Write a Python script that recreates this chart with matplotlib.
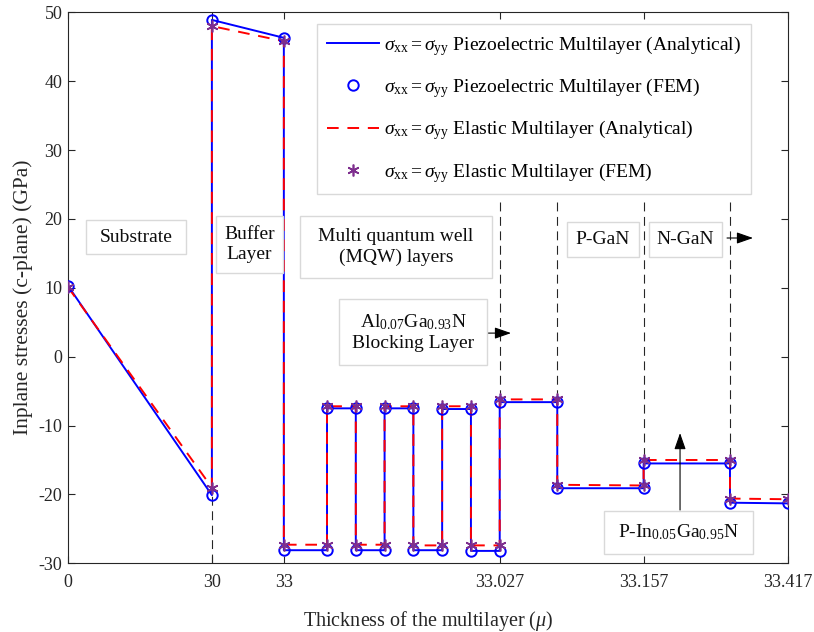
import matplotlib
matplotlib.use('Agg')
import matplotlib.pyplot as plt
from matplotlib.patches import Rectangle

plt.rcParams['font.family'] = ['Liberation Serif', 'DejaVu Serif']
plt.rcParams['mathtext.fontset'] = 'custom'
plt.rcParams['mathtext.rm'] = 'Liberation Serif'
plt.rcParams['mathtext.it'] = 'Liberation Serif:italic'
plt.rcParams['axes.unicode_minus'] = False

# layer boundaries on the (non-linear) plotted axis, each boundary appears twice (left/right value)
x_nodes = [0, 5, 5, 7.5, 7.5, 9, 9, 10, 10, 11, 11, 12, 12, 13, 13, 14, 14, 15, 15,
           17, 17, 20, 20, 23, 23, 25]

# sigma_xx = sigma_yy, GPa
piezo = [10.3, -20.1, 48.9, 46.3, -28.1, -28.1, -7.5, -7.5, -28.1, -28.1, -7.5, -7.5,
         -28.1, -28.1, -7.6, -7.6, -28.2, -28.2, -6.6, -6.6, -19.1, -19.1, -15.5, -15.5,
         -21.2, -21.3]
elastic = [10.1, -19.0, 48.0, 45.8, -27.3, -27.3, -7.2, -7.2, -27.3, -27.3, -7.2, -7.2,
           -27.4, -27.4, -7.2, -7.2, -27.4, -27.4, -6.2, -6.2, -18.6, -18.7, -15.0, -15.0,
           -20.6, -20.7]

tick_pos = [0, 5, 7.5, 15, 20, 25]
tick_labels = ['0', '30', '33', '33.027', '33.157', '33.417']

# dashed guide lines at some interfaces
guide_x = [15, 17, 20, 23]
guide_top = 22.5

# annotation boxes: text, x0, x1, y0, y1 (axes fraction)
boxes = [
    ('Substrate', 0.0250, 0.1640, 0.5613, 0.6231),
    ('Buffer\nLayer', 0.2057, 0.2988, 0.5269, 0.6304),
    ('Multi quantum well\n(MQW) layers', 0.3224, 0.5893, 0.5178, 0.6304),
    (r'Al$_{0.07}$Ga$_{0.93}$N' + '\nBlocking Layer', 0.3766, 0.5823, 0.3599, 0.4797),
    ('P-GaN', 0.6935, 0.7936, 0.5559, 0.6195),
    ('N-GaN', 0.8075, 0.9090, 0.5559, 0.6195),
    (r'P-In$_{0.05}$Ga$_{0.95}$N', 0.7450, 0.9521, 0.0169, 0.0949),
]

fig = plt.figure(figsize=(8.14, 6.32), dpi=100)
ax = fig.add_axes([0.0835, 0.1087, 0.884, 0.8718])

gls = (0, (8, 5))
ax.plot([5, 5], [-30, min(piezo[1], elastic[1])], color='0.15', ls=gls, lw=0.8, zorder=1)
for gx in guide_x:
    vals = [p for xn, p in zip(x_nodes, piezo) if xn == gx] + [e for xn, e in zip(x_nodes, elastic) if xn == gx]
    ax.plot([gx, gx], [guide_top, max(vals)], color='0.15', ls=gls, lw=0.8, zorder=1)

lab = r'$\sigma_{\rm xx} = \sigma_{\rm yy}$ '
ax.plot(x_nodes, piezo, color='b', lw=1.4, label=lab + 'Piezoelectric Multilayer (Analytical)', zorder=2)
ax.plot(x_nodes, piezo, ls='none', marker='o', ms=7.5, mfc='none', mec='b', mew=1.4,
        label=lab + 'Piezoelectric Multilayer (FEM)', zorder=4)
ax.plot(x_nodes, elastic, color='r', lw=1.4, ls=(0, (6, 4.5)), label=lab + 'Elastic Multilayer (Analytical)', zorder=3)
ax.plot(x_nodes, elastic, ls='none', marker=(6, 2, 0), ms=8.5, mec='#7e2f8e', mew=1.2,
        label=lab + 'Elastic Multilayer (FEM)', zorder=5)

ax.set_xlim(0, 25)
ax.set_ylim(-30, 50)
ax.set_xticks(tick_pos)
ax.set_xticklabels(tick_labels)
ax.set_yticks(range(-30, 51, 10))
ax.tick_params(direction='in', top=True, right=True, length=5, labelsize=13, colors='0.15')
ax.tick_params(axis='x', pad=8)
ax.tick_params(axis='y', pad=4)
for s in ax.spines.values():
    s.set_color('0.15')
    s.set_linewidth(0.8)

ax.set_xlabel(r'Thickness of the multilayer ($\mu$)', fontsize=14.5, color='0.15', labelpad=13)
ax.set_ylabel('Inplane stresses (c-plane) (GPa)', fontsize=15.5, color='0.15')
ax.yaxis.set_label_coords(-0.049, 0.483)

leg = ax.legend(loc='upper right', bbox_to_anchor=(0.949, 0.979), fontsize=14, labelspacing=0.95,
                handlelength=2.7, handletextpad=0.25, borderpad=0.5, fancybox=False, framealpha=1,
                borderaxespad=0)
leg.get_frame().set_edgecolor('0.85')
leg.get_frame().set_linewidth(1)

for txt, x0, x1, y0, y1 in boxes:
    ax.add_patch(Rectangle((x0, y0), x1 - x0, y1 - y0, transform=ax.transAxes, fc='white',
                           ec='0.85', lw=1, zorder=6))
    ax.text((x0 + x1) / 2, (y0 + y1) / 2, txt, transform=ax.transAxes, fontsize=14, ha='center',
            va='center', color='0.05', linespacing=1.25, zorder=7)

arr = dict(arrowstyle='-|>,head_length=1.0,head_width=0.35', color='k', lw=0.8, shrinkA=0, shrinkB=0)
ax.annotate('', xy=(0.6157, 0.4178), xytext=(0.5754, 0.4178), xycoords='axes fraction', arrowprops=arr)
ax.annotate('', xy=(0.952, 0.5904), xytext=(0.9159, 0.5904), xycoords='axes fraction', arrowprops=arr)
ax.annotate('', xy=(0.8506, 0.2364), xytext=(0.8506, 0.0966), xycoords='axes fraction', arrowprops=arr)

fig.savefig('out.png', dpi=100)
